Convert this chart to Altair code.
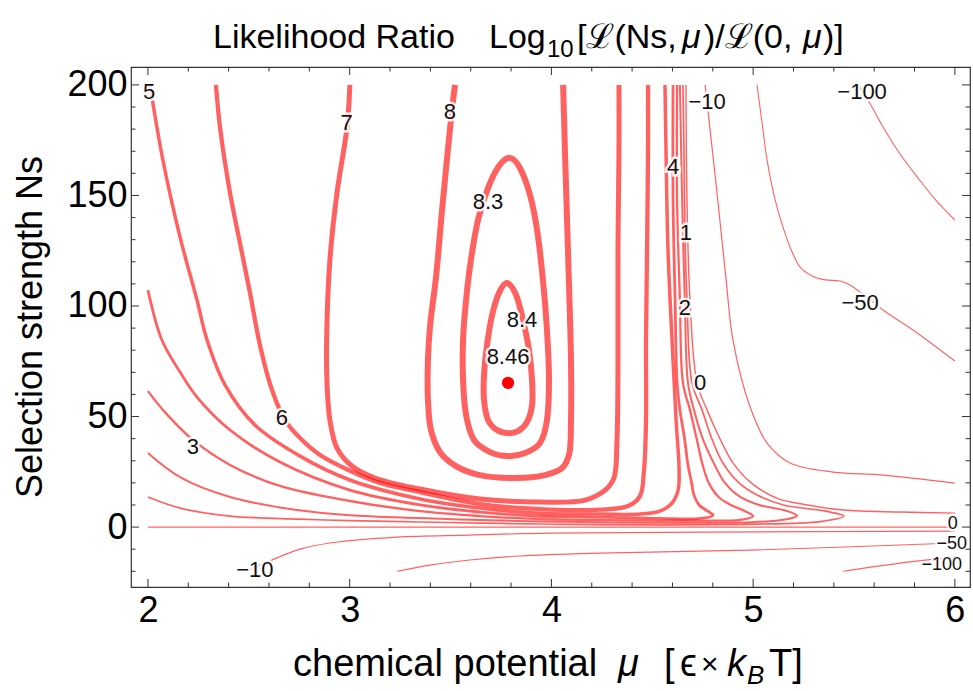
import altair as alt
import pandas as pd

FONT = "Liberation Sans"
RED = "#ff0000"
FRAME = "#333333"

W, H = 839, 520
MU_DOMAIN = [1.916, 6.075]
NS_DOMAIN = [-27.1, 208.1]

# ---- contour lines of log10 L(Ns,mu)/L(0,mu), traced as (mu, Ns) polylines ----
# closed loops around the maximum
c84_mu = [3.780, 3.825, 3.859, 3.889, 3.904, 3.904, 3.879, 3.834, 3.785, 3.730, 3.686, 3.666, 3.666, 3.681, 3.706, 3.740]
c84_ns = [110.4, 105.0, 93.7, 80.1, 66.5, 55.2, 47.5, 43.4, 42.5, 43.9, 48.4, 57.5, 68.8, 82.4, 95.9, 105.9]

c83_mu = [3.795, 3.844, 3.894, 3.929, 3.958, 3.978, 3.988, 3.978, 3.943, 3.869, 3.785, 3.696, 3.616, 3.577, 3.562, 3.562, 3.577, 3.601, 3.636, 3.686, 3.740]
c83_ns = [167.0, 162.4, 150.2, 134.4, 111.8, 89.1, 66.5, 48.4, 38.0, 33.5, 32.1, 33.9, 39.4, 50.7, 66.5, 84.6, 102.7, 120.8, 138.9, 153.4, 163.3]

# open contours
c8_mu = [3.522, 3.507, 3.482, 3.458, 3.428, 3.398, 3.388, 3.388, 3.403, 3.448, 3.527, 3.646, 3.820, 3.968, 4.053, 4.087, 4.097, 4.097, 4.082, 4.067, 4.058]
c8_ns = [200, 188.7, 166.1, 143.4, 113.1, 90.5, 75.6, 57.5, 43.9, 33.9, 27.6, 23.5, 22.2, 23.5, 26.7, 32.6, 48.4, 75.6, 125.3, 170.6, 200]

c7_mu = [3.001, 2.987, 2.937, 2.902, 2.887, 2.887, 2.902, 2.937, 3.011, 3.125, 3.349, 3.646, 3.943, 4.167, 4.266, 4.310, 4.325, 4.330, 4.330, 4.335, 4.335]
c7_ns = [200, 181.0, 151.1, 120.8, 90.5, 66.5, 48.4, 35.7, 27.6, 22.2, 17.2, 12.7, 11.3, 12.2, 16.7, 22.2, 39.4, 75.6, 125.3, 170.6, 200]

c6_mu = [2.337, 2.357, 2.407, 2.456, 2.506, 2.555, 2.615, 2.679, 2.754, 2.853, 3.001, 3.150, 3.349, 3.646, 3.943, 4.241, 4.380, 4.439, 4.459, 4.469, 4.469, 4.474, 4.479, 4.479]
c6_ns = [200, 181.0, 151.1, 128.5, 105.9, 82.4, 62.0, 48.4, 40.3, 32.6, 25.5, 20.0, 15.8, 10.4, 8.1, 7.9, 9.5, 14.0, 25.8, 48.4, 84.6, 125.3, 170.6, 200]

c5_mu = [2.010, 2.074, 2.159, 2.243, 2.293, 2.382, 2.530, 2.754, 3.001, 3.349, 3.646, 3.943, 4.241, 4.439, 4.538, 4.598, 4.628, 4.633, 4.618, 4.598, 4.578, 4.568, 4.563]
c5_ns = [200, 166.1, 131.2, 102.7, 84.6, 64.3, 46.2, 32.1, 21.3, 12.7, 8.6, 6.3, 5.9, 5.9, 7.2, 10.9, 16.7, 25.8, 48.4, 84.6, 125.3, 170.6, 200]

c4_mu = [2.0, 2.069, 2.159, 2.243, 2.407, 2.654, 3.001, 3.349, 3.646, 3.943, 4.241, 4.538, 4.737, 4.801, 4.771, 4.732, 4.705, 4.695, 4.677, 4.660, 4.637, 4.623, 4.613, 4.603, 4.603]
c4_ns = [107.2, 84.6, 70.1, 58.8, 43.9, 29.4, 16.7, 10.0, 6.8, 4.9, 4.5, 3.9, 3.9, 5.4, 7.4, 10.0, 15.0, 20.0, 28.1, 40.0, 52.9, 65.2, 102.7, 148.0, 200]

c3_mu = [2.0, 2.084, 2.223, 2.407, 2.654, 3.001, 3.349, 3.646, 3.943, 4.241, 4.737, 4.935, 5.000, 4.960, 4.890, 4.830, 4.780, 4.750, 4.720, 4.687, 4.652, 4.637, 4.623, 4.623]
c3_ns = [61.5, 52.0, 39.4, 28.1, 18.6, 11.8, 7.2, 5.0, 3.6, 3.2, 2.9, 3.3, 5.0, 7.2, 10.0, 13.5, 20.0, 28.0, 40.0, 52.9, 65.2, 102.7, 148.0, 200]

c2_mu = [2.0, 2.159, 2.407, 2.739, 3.001, 3.349, 3.646, 3.943, 4.241, 4.985, 5.158, 5.218, 5.160, 5.030, 4.930, 4.860, 4.810, 4.750, 4.707, 4.677, 4.662, 4.648, 4.637]
c2_ns = [33.5, 22.6, 13.6, 7.7, 5.4, 4.1, 3.2, 2.5, 2.2, 2.2, 3.4, 5.2, 7.5, 10.0, 14.0, 20.0, 28.0, 40.0, 52.9, 65.2, 99.1, 148.0, 200]

c1_mu = [2.0, 2.159, 2.407, 2.754, 3.001, 3.349, 3.646, 3.943, 4.241, 4.985, 5.332, 5.450, 5.360, 5.150, 5.020, 4.930, 4.850, 4.795, 4.747, 4.697, 4.672, 4.662, 4.657, 4.652]
c1_ns = [13.6, 8.6, 5.0, 3.6, 2.9, 2.3, 1.8, 1.4, 1.1, 1.3, 2.5, 5.0, 7.2, 10.0, 14.5, 20.0, 29.0, 40.0, 52.9, 65.2, 102.7, 133.0, 170.6, 200]

c0a_mu = [4.667, 4.672, 4.687, 4.722, 4.776, 4.835, 4.900, 4.990, 5.120, 5.270, 5.450, 5.730, 6.0]
c0a_ns = [200, 148.0, 102.7, 65.2, 52.0, 40.0, 29.0, 20.0, 13.0, 10.0, 7.7, 6.8, 6.3]
c0b_mu = [2.0, 6.0]
c0b_ns = [0.0, 0.0]

m10a_mu = [4.762, 4.821, 4.866, 4.900, 4.985, 5.069, 5.183, 5.396, 5.644, 6.0]
m10a_ns = [200, 151.1, 111.8, 84.6, 54.3, 38.0, 29.0, 24.9, 23.5, 19.9]
m10b_mu = [2.481, 2.590, 2.754, 2.902, 3.234, 3.596, 3.993, 4.737, 6.0]
m10b_ns = [-20, -15.8, -10.0, -7.2, -4.5, -3.6, -2.7, -2.3, -1.8]

m50a_mu = [5.019, 5.049, 5.069, 5.109, 5.148, 5.193, 5.233, 5.292, 5.357, 5.431, 5.480, 5.530, 5.644, 5.813, 6.0]
m50a_ns = [200, 179.6, 166.1, 148.0, 135.7, 124.4, 117.6, 113.6, 111.8, 111.3, 109.5, 106.3, 98.2, 87.8, 75.1]
m50b_mu = [3.234, 3.398, 3.596, 3.844, 4.241, 4.985, 6.0]
m50b_ns = [-20, -17.2, -14.9, -13.1, -11.8, -10.4, -7.2]

m100a_mu = [5.520, 5.580, 5.644, 5.730, 5.813, 5.900, 6.0]
m100a_ns = [200, 191.5, 181.0, 168.5, 158.4, 148.5, 138.9]
m100b_mu = [5.446, 5.728, 6.0]
m100b_ns = [-20, -16.3, -13.6]

# maximum of the likelihood ratio
peak_mu = [3.785]
peak_ns = [65.2]

# contour labels inside the frame
label_text = ["8.46", "8.4", "8.3", "8", "7", "6", "5", "4", "3", "2", "1", "0",
              "\u221210", "\u221250", "\u2212100", "\u221210"]
label_mu = [3.785, 3.854, 3.686, 3.497, 2.985, 2.664, 2.006, 4.603, 2.223, 4.662, 4.667, 4.737,
            4.772, 5.530, 5.540, 2.530]
label_ns = [76.9, 93.7, 147.1, 187.9, 182.7, 49.3, 197.0, 162.9, 36.0, 99.1, 133.0, 65.2,
            192.3, 101.4, 196.8, -19.5]

# contour labels stacked at the right edge
edge_text = ["0", "\u221250", "\u2212100"]
edge_mu = [5.990, 5.985, 5.935]
edge_ns = [1.4, -7.8, -17.0]

# frame ticks
x_major = [2, 3, 4, 5, 6]
x_minor = [2.2, 2.4, 2.6, 2.8, 3.2, 3.4, 3.6, 3.8, 4.2, 4.4, 4.6, 4.8, 5.2, 5.4, 5.6, 5.8]
y_major = [0, 50, 100, 150, 200]
y_minor = [-20, -10, 10, 20, 30, 40, 60, 70, 80, 90, 110, 120, 130, 140, 160, 170, 180, 190]

# line thickness per contour level
line_width = {"8.4": 6.0, "8.3": 6.0, "8": 6.0, "7": 5.0, "6": 4.3, "5": 3.5, "4": 2.8,
              "3": 2.3, "2": 2.0, "1": 1.7, "0": 1.4, "-10": 1.2, "-50": 1.1, "-100": 1.1}

open_lines = [
    ("8", c8_mu, c8_ns), ("7", c7_mu, c7_ns), ("6", c6_mu, c6_ns), ("5", c5_mu, c5_ns),
    ("4", c4_mu, c4_ns), ("3", c3_mu, c3_ns), ("2", c2_mu, c2_ns), ("1", c1_mu, c1_ns),
    ("0", c0a_mu, c0a_ns), ("0", c0b_mu, c0b_ns),
    ("-10", m10a_mu, m10a_ns), ("-10", m10b_mu, m10b_ns),
    ("-50", m50a_mu, m50a_ns), ("-50", m50b_mu, m50b_ns),
    ("-100", m100a_mu, m100a_ns), ("-100", m100b_mu, m100b_ns),
]
closed_lines = [("8.4", c84_mu, c84_ns), ("8.3", c83_mu, c83_ns)]


def to_frame(lines):
    rows = []
    for k, (lvl, mus, nss) in enumerate(lines):
        for i, (m, n) in enumerate(zip(mus, nss)):
            rows.append({"seg": f"{lvl}_{k}", "idx": i, "mu": m, "ns": n, "w": line_width[lvl]})
    return pd.DataFrame(rows)


xs = alt.Scale(domain=MU_DOMAIN, nice=False, zero=False)
ys = alt.Scale(domain=NS_DOMAIN, nice=False, zero=False)

x_axis = alt.Axis(values=x_major, ticks=False, domain=False, grid=False, labelFont=FONT,
                  labelFontSize=36, labelColor="black", labelPadding=6, labelFlush=False,
                  labelOverlap=False, format="d")
y_axis = alt.Axis(values=y_major, ticks=False, domain=False, grid=False, labelFont=FONT,
                  labelFontSize=36, labelColor="black", labelPadding=4, labelFlush=False,
                  labelOverlap=False, format="d")

X = alt.X("mu:Q", scale=xs, axis=x_axis, title=None)
Y = alt.Y("ns:Q", scale=ys, axis=y_axis, title=None)

open_layer = alt.Chart(to_frame(open_lines)).mark_line(
    color=RED, opacity=0.62, interpolate="catmull-rom", clip=True
).encode(
    x=X, y=Y, detail="seg:N", order="idx:Q",
    strokeWidth=alt.StrokeWidth("w:Q", scale=None, legend=None),
)

loop_layer = alt.Chart(to_frame(closed_lines)).mark_line(
    color=RED, opacity=0.62, interpolate="cardinal-closed", clip=True
).encode(
    x=X, y=Y, detail="seg:N", order="idx:Q",
    strokeWidth=alt.StrokeWidth("w:Q", scale=None, legend=None),
)

peak_layer = alt.Chart(pd.DataFrame({"mu": peak_mu, "ns": peak_ns})).mark_circle(
    size=150, color=RED, opacity=1
).encode(x=X, y=Y)


def label_layers(texts, mus, nss, size):
    df = pd.DataFrame({"mu": mus, "ns": nss, "txt": texts})
    halo = alt.Chart(df).mark_text(
        font=FONT, fontSize=size, fill="white", stroke="white", strokeWidth=5, opacity=0.85,
        baseline="middle", align="center"
    ).encode(x=X, y=Y, text="txt:N")
    ink = alt.Chart(df).mark_text(
        font=FONT, fontSize=size, color="#111111", baseline="middle", align="center"
    ).encode(x=X, y=Y, text="txt:N")
    return [halo, ink]


def x_ticks(vals, length, top):
    y0, y1 = (0, length) if top else (H, H - length)
    return alt.Chart(pd.DataFrame({"mu": vals})).mark_rule(color=FRAME, strokeWidth=1).encode(
        x=alt.X("mu:Q", scale=xs, title=None), y=alt.value(y0), y2=alt.value(y1))


def y_ticks(vals, length, right):
    x0, x1 = (W, W - length) if right else (0, length)
    return alt.Chart(pd.DataFrame({"ns": vals})).mark_rule(color=FRAME, strokeWidth=1).encode(
        y=alt.Y("ns:Q", scale=ys, title=None), x=alt.value(x0), x2=alt.value(x1))


tick_layers = [
    x_ticks(x_major, 8, False), x_ticks(x_minor, 4.5, False),
    x_ticks(x_major, 8, True), x_ticks(x_minor, 4.5, True),
    y_ticks(y_major, 8, False), y_ticks(y_minor, 4.5, False),
    y_ticks(y_major, 8, True), y_ticks(y_minor, 4.5, True),
]

one = pd.DataFrame({"k": [0]})


def caption(s, x, y, size, italic=False, angle=0, align="left", baseline="alphabetic"):
    return alt.Chart(one).mark_text(
        text=s, font=FONT, fontSize=size, fontStyle="italic" if italic else "normal",
        align=align, baseline=baseline, angle=angle, color="black"
    ).encode(x=alt.value(x), y=alt.value(y))


text_layers = [
    # plot title
    caption("Likelihood Ratio", 82, -19, 34),
    caption("Log", 358, -19, 34),
    caption("10", 416, -10, 24),
    caption("[\u2112(Ns,", 446, -19, 34),
    caption("\u03bc", 551, -19, 34, italic=True),
    caption(")/\u2112(0,", 573, -19, 34),
    caption("\u03bc", 672, -19, 34, italic=True),
    caption(")]", 692, -19, 34),
    # horizontal axis title
    caption("chemical potential", 162, 609, 38),
    caption("\u03bc", 487, 609, 38, italic=True),
    caption("[", 533, 609, 38),
    caption("\u03f5", 549, 609, 38),
    caption("\u00d7", 570, 607, 30),
    caption("k", 596, 609, 38, italic=True),
    caption("B", 616, 617, 26, italic=True),
    caption("T]", 638, 609, 38),
    # vertical axis title
    caption("Selection strength Ns", -100, 260, 36, angle=270, align="center", baseline="middle"),
]

chart = alt.layer(
    open_layer, loop_layer, peak_layer,
    *label_layers(label_text, label_mu, label_ns, 22),
    *label_layers(edge_text, edge_mu, edge_ns, 18),
    *tick_layers, *text_layers
).properties(
    width=W, height=H,
    autosize=alt.AutoSizeParams(type="none"),
    padding={"left": 131, "top": 67, "right": 3, "bottom": 104},
).configure_view(stroke=FRAME, strokeWidth=1.2)

chart.save("out.html", embed_options={"renderer": "svg", "actions": False})
